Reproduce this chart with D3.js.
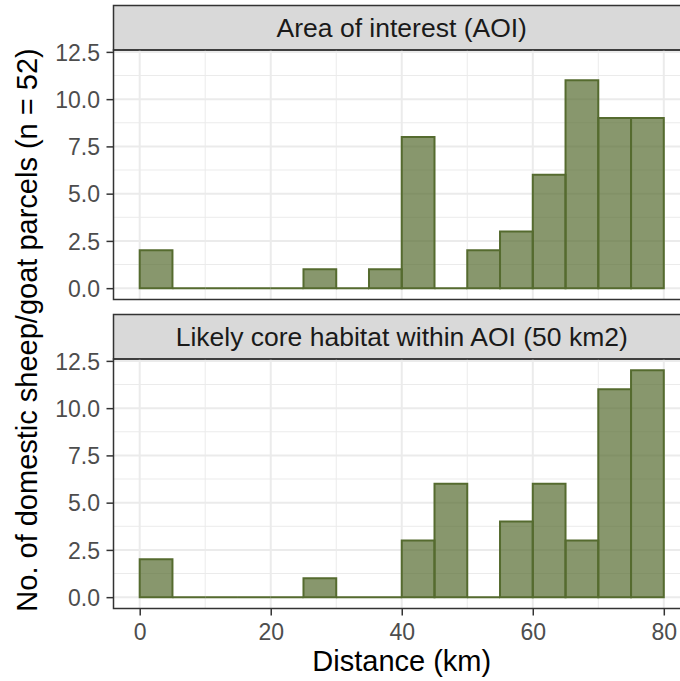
<!DOCTYPE html>
<html lang="en">
<head>
<meta charset="UTF-8">
<title>Distance histogram</title>
<script src="https://d3js.org/d3.v7.min.js"></script>
<style>
    body { margin: 0; background: #fff; }
    svg { display: block; font-family: 'Liberation Sans', Arial, sans-serif; }
</style>
</head>
<body>
<svg id="chart" width="680" height="681"></svg>
<script>
// bins of 5 km, lower edges
const binStarts = [0, 5, 10, 15, 20, 25, 30, 35, 40, 45, 50, 55, 60, 65, 70, 75];
const binWidth = 5;
const panelTitles = ["Area of interest (AOI)", "Likely core habitat within AOI (50 km2)"];
const aoiCounts  = [2, 0, 0, 0, 0, 1, 0, 1, 8, 0, 2, 3, 6, 11, 9, 9];
const coreCounts = [2, 0, 0, 0, 0, 1, 0, 0, 3, 6, 0, 4, 6, 3, 11, 12];
const xTicks = [0, 20, 40, 60, 80];
const xMinor = [10, 30, 50, 70];
const yTicks = [0, 2.5, 5, 7.5, 10, 12.5];
const yMinor = [1.25, 3.75, 6.25, 8.75, 11.25];

const svg = d3.select("#chart");
const left = 113.5, right = 690;
const stripH = 44.5;
const panels = [
    { title: panelTitles[0], counts: aoiCounts, top: 5.5 },
    { title: panelTitles[1], counts: coreCounts, top: 314.5 }
];
const plotH = 249.5;
const fontFam = "'Liberation Sans', Arial, sans-serif";

const x = d3.scaleLinear().domain([-4, 84]).range([left, right]);

panels.forEach((p, i) => {
    const y0 = p.top + stripH;
    const y = d3.scaleLinear().domain([-0.6, 12.6]).range([y0 + plotH, y0]);
    const g = svg.append("g");

    // strip
    g.append("rect")
        .attr("x", left).attr("y", p.top)
        .attr("width", right - left).attr("height", stripH)
        .attr("fill", "#d9d9d9").attr("stroke", "#333").attr("stroke-width", 1.5);
    g.append("text")
        .attr("x", (left + right) / 2).attr("y", p.top + stripH / 2 + 9.5)
        .attr("text-anchor", "middle").attr("font-size", 26.5).attr("fill", "#1a1a1a")
        .text(p.title);

    // grid
    g.selectAll(".ymin").data(yMinor).join("line")
        .attr("x1", left).attr("x2", right)
        .attr("y1", d => y(d)).attr("y2", d => y(d))
        .attr("stroke", "#ebebeb").attr("stroke-width", 1);
    g.selectAll(".xmin").data(xMinor).join("line")
        .attr("y1", y0).attr("y2", y0 + plotH)
        .attr("x1", d => x(d)).attr("x2", d => x(d))
        .attr("stroke", "#ebebeb").attr("stroke-width", 1);
    g.selectAll(".ymaj").data(yTicks).join("line")
        .attr("x1", left).attr("x2", right)
        .attr("y1", d => y(d)).attr("y2", d => y(d))
        .attr("stroke", "#ebebeb").attr("stroke-width", 2);
    g.selectAll(".xmaj").data(xTicks).join("line")
        .attr("y1", y0).attr("y2", y0 + plotH)
        .attr("x1", d => x(d)).attr("x2", d => x(d))
        .attr("stroke", "#ebebeb").attr("stroke-width", 2);

    // bars (paths so empty bins still show the baseline)
    g.selectAll(".bar").data(p.counts).join("path")
        .attr("d", (d, j) => {
            const xa = x(binStarts[j]), xb = x(binStarts[j] + binWidth);
            return `M${xa},${y(0)}H${xb}V${y(d)}H${xa}Z`;
        })
        .attr("fill", "rgba(85,107,47,0.7)")
        .attr("stroke", "#556b2f").attr("stroke-width", 2);

    // panel border
    g.append("rect")
        .attr("x", left).attr("y", y0)
        .attr("width", right - left).attr("height", plotH)
        .attr("fill", "none").attr("stroke", "#333").attr("stroke-width", 1.5);

    // y axis
    const yAxis = g.append("g")
        .attr("transform", `translate(${left},0)`)
        .call(d3.axisLeft(y).tickValues(yTicks).tickFormat(d3.format(".1f")).tickSize(7).tickPadding(6.5));
    yAxis.attr("font-size", null).attr("font-family", null);
    yAxis.select(".domain").remove();
    yAxis.selectAll("line").attr("stroke", "#333").attr("stroke-width", 1.5);
    yAxis.selectAll("text").attr("font-size", 23).attr("fill", "#4d4d4d")
        .attr("font-family", fontFam).attr("dy", "0.36em");

    if (i === 1) {
        const xAxis = g.append("g")
            .attr("transform", `translate(0,${y0 + plotH})`)
            .call(d3.axisBottom(x).tickValues(xTicks).tickSize(7).tickPadding(5));
        xAxis.attr("font-size", null).attr("font-family", null);
        xAxis.select(".domain").remove();
        xAxis.selectAll("line").attr("stroke", "#333").attr("stroke-width", 1.5);
        xAxis.selectAll("text").attr("font-size", 23).attr("fill", "#4d4d4d")
            .attr("font-family", fontFam).attr("dy", null).attr("y", 31);
    }
});

// axis titles
svg.append("text")
    .attr("x", (left + right) / 2).attr("y", 671)
    .attr("text-anchor", "middle").attr("font-size", 29).attr("fill", "#000")
    .text("Distance (km)");
svg.append("text")
    .attr("transform", "translate(37,330) rotate(-90)")
    .attr("text-anchor", "middle").attr("font-size", 29).attr("fill", "#000")
    .text("No. of domestic sheep/goat parcels (n = 52)");
</script>
</body>
</html>
